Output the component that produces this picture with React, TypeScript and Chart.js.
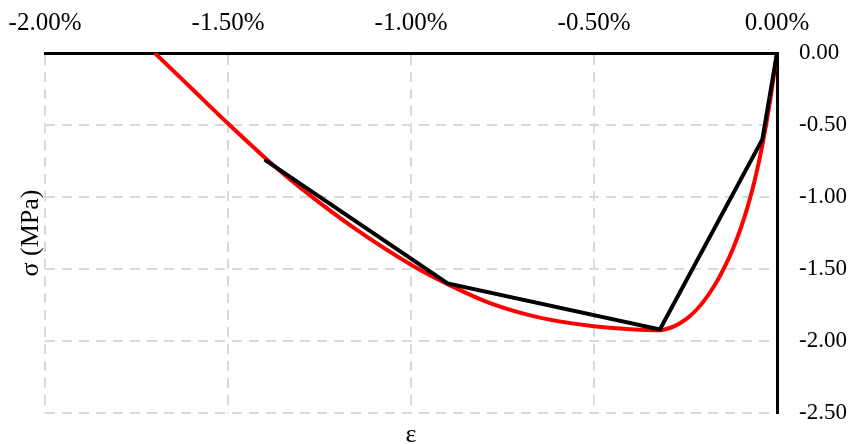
import React, { useEffect, useRef } from "react";
import { Chart, registerables } from "chart.js";

Chart.register(...registerables);

// Strain (%) and stress (MPa)
const redStrain = [-1.7, -1.6, -1.5, -1.4, -1.3, -1.15, -1.0, -0.9, -0.784, -0.648, -0.5, -0.4, -0.32, -0.3, -0.28, -0.26, -0.24, -0.22, -0.2, -0.18, -0.16, -0.14, -0.12, -0.1, -0.08, -0.06, -0.04, -0.02, 0];
const redStress = [0, -0.245, -0.49, -0.725, -0.94, -1.225, -1.47, -1.605, -1.737, -1.838, -1.898, -1.918, -1.925, -1.915, -1.897, -1.868, -1.831, -1.783, -1.723, -1.651, -1.567, -1.47, -1.357, -1.224, -1.066, -0.875, -0.64, -0.35, 0];

const blackStrain = [0, -0.04, -0.32, -0.9, -1.4];
const blackStress = [0, -0.6, -1.92, -1.6, -0.74];

const xTickValues = [-2, -1.5, -1, -0.5, 0];
const yTickValues = [0, -0.5, -1, -1.5, -2, -2.5];

const xTitle = "ε";
const yTitle = "σ (MPa)";

const FONT = "'Liberation Serif', 'Times New Roman', serif";

export default function App() {
  const ref = useRef<HTMLCanvasElement | null>(null);

  useEffect(() => {
    if (!ref.current) return;
    const chart = new Chart(ref.current, {
      type: "scatter",
      data: {
        datasets: [
          {
            label: "model",
            data: blackStrain.map((x, i) => ({ x, y: blackStress[i] })),
            showLine: true,
            borderColor: "#000000",
            backgroundColor: "#000000",
            borderWidth: 4,
            pointRadius: 0,
            xAxisID: "x",
            yAxisID: "y",
            order: 0,
          },
          {
            label: "curve",
            data: redStrain.map((x, i) => ({ x, y: redStress[i] })),
            showLine: true,
            borderColor: "#ff0000",
            backgroundColor: "#ff0000",
            borderWidth: 4,
            pointRadius: 0,
            cubicInterpolationMode: "monotone",
            xAxisID: "x",
            yAxisID: "y",
            order: 1,
          },
        ],
      },
      options: {
        responsive: false,
        animation: false,
        layout: { padding: 0 },
        plugins: { legend: { display: false }, tooltip: { enabled: false } },
        scales: {
          x: {
            type: "linear",
            position: "top",
            min: -2,
            max: 0,
            afterBuildTicks: (s: any) => {
              s.ticks = xTickValues.map((v) => ({ value: v }));
            },
            afterFit: (s: any) => {
              s.height = 53;
            },
            grid: {
              color: "#d9d9d9",
              lineWidth: 2,
              drawTicks: true,
              tickLength: 15,
              tickColor: "rgba(0,0,0,0)",
            },
            border: { display: true, color: "#000000", width: 3, dash: [10, 7] },
            ticks: {
              padding: 0,
              color: "#000000",
              font: { family: FONT, size: 25 },
              maxRotation: 0,
              callback: (v: any) => Number(v).toFixed(2) + "%",
            },
          },
          xb: {
            type: "linear",
            position: "bottom",
            min: -2,
            max: 0,
            afterFit: (s: any) => {
              s.height = 31;
            },
            grid: { display: false },
            border: { display: false },
            ticks: { display: false },
            title: {
              display: true,
              text: xTitle,
              color: "#000000",
              font: { family: FONT, size: 26, lineHeight: 1.0 },
              padding: { top: 0, bottom: -4 },
            },
          },
          y: {
            type: "linear",
            position: "right",
            min: -2.5,
            max: 0,
            afterBuildTicks: (s: any) => {
              s.ticks = yTickValues.map((v) => ({ value: v }));
            },
            afterFit: (s: any) => {
              s.width = 74;
            },
            grid: {
              color: "#d9d9d9",
              lineWidth: 2,
              drawTicks: true,
              tickLength: 22,
              tickColor: "rgba(0,0,0,0)",
            },
            border: { display: true, color: "#000000", width: 3, dash: [10, 7] },
            ticks: {
              padding: 0,
              color: "#000000",
              font: { family: FONT, size: 23 },
              callback: (v: any) => Number(v).toFixed(2),
            },
          },
          yl: {
            type: "linear",
            position: "left",
            min: -2.5,
            max: 0,
            afterFit: (s: any) => {
              s.width = 45;
            },
            grid: { display: false },
            border: { display: false },
            ticks: { display: false },
            title: {
              display: true,
              text: yTitle,
              color: "#000000",
              font: { family: FONT, size: 26, lineHeight: 1.2 },
              padding: { top: 16, bottom: 0 },
            },
          },
        },
      },
    } as any);
    return () => chart.destroy();
  }, []);

  return (
    <div style={{ position: "absolute", left: 0, top: 0, width: 851, height: 444, background: "#ffffff" }}>
      <canvas ref={ref} width={851} height={444} style={{ display: "block" }} />
    </div>
  );
}
